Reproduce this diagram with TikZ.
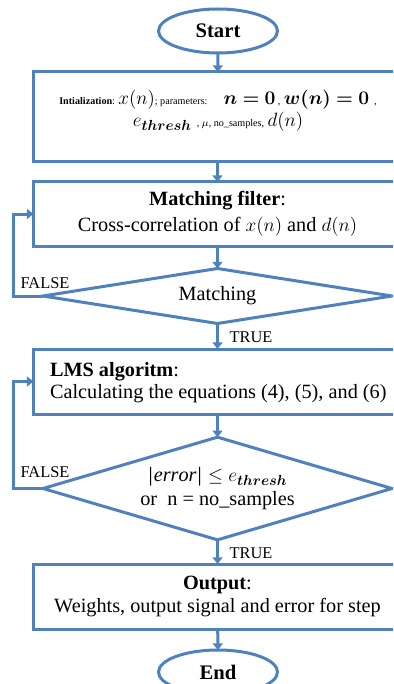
\documentclass[tikz,border=0pt]{standalone}
\usepackage{fontspec}
\setmainfont{Liberation Serif}
\usepackage{amsmath,bm}
\usetikzlibrary{shapes.geometric,arrows.meta}
\definecolor{flowblue}{RGB}{79,129,189}

\begin{document}
\begin{tikzpicture}[x=0.75pt,y=-0.75pt,line width=2.25pt,
  every node/.style={inner sep=0pt,outer sep=0pt},
  terminal/.style={ellipse,draw=flowblue,minimum width=89.25pt,minimum height=33pt,font=\fontsize{15.5}{18}\selectfont\bfseries},
  box/.style={rectangle,draw=flowblue,minimum width=276pt},
  decision/.style={diamond,draw=flowblue,minimum width=261.75pt},
  arr/.style={draw=flowblue,-{Triangle[width=7.5pt,length=5pt]}},
  txt/.style={font=\fontsize{15.2}{17.5}\selectfont,align=center},
  lbl/.style={font=\fontsize{12.3}{14}\selectfont}]

\useasboundingbox (0,0) rectangle (393,684);
\clip (0,0) rectangle (393,684);

% terminals and boxes
\node[terminal] (start) at (218,31) {Start};

\node[box,minimum height=67.5pt] (init) at (217.5,117) {};
\node[font=\fontsize{15}{16.5}\selectfont,align=center] (inittxt) at (218,111)
  {{\fontsize{7.6}{9}\selectfont\textbf{Intialization}:}\,$x(n)${\fontsize{7.6}{9}\selectfont; parameters:}\hspace{12pt}$\bm{n=0}${\fontsize{7.6}{9}\selectfont\ ,}\,$\bm{w(n)=0}${\fontsize{7.6}{9}\selectfont\ \ ,}\\
   $e_{\bm{thresh}}${\fontsize{7.6}{9}\selectfont\ \ , $\mu$, no\_samples,}\,$d(n)$};

\node[box,minimum height=48pt,txt,font=\fontsize{15.2}{19.5}\selectfont] (match) at (217.5,214)
  {\textbf{Matching filter}:\\Cross-correlation of $x(n)$ and $d(n)$};

\node[decision,aspect=6,minimum height=41.25pt,txt] (dmatch) at (217.5,296) {Matching};

\node[box,minimum height=48.75pt] (lms) at (217.5,381.5) {};
\node[txt,align=left,anchor=west,font=\fontsize{15.2}{16}\selectfont] (lmstxt) at (50,382.5)
  {\textbf{LMS algoritm}:\\Calculating the equations (4), (5), and (6)};

\node[decision,aspect=3.4,minimum height=77pt,txt] (derr) at (217.5,488.5)
  {$\bm{|}\mathit{error}\bm{|}\leq e_{\bm{thresh}}$\\or\ \ n = no\_samples};

\node[box,minimum height=48.75pt,txt] (out) at (217.5,596.5)
  {\textbf{Output}:\\Weights, output signal and error for step};

\node[terminal] (end) at (218,672) {End};

% main flow
\draw[arr] (start) -- (init);
\draw[arr] (init) -- (match);
\draw[arr] (match) -- (dmatch);
\draw[arr] (dmatch) -- (lms);
\draw[arr] (lms) -- (derr);
\draw[arr] (derr) -- (out);
\draw[arr] (out) -- (end);

% loops back
\draw[arr] (dmatch.west) -- ++(-30,0) |- (match.west);
\draw[arr] (derr.west) -- ++(-30,0) |- (lms.west);

\node[lbl] (f1) at (45,283) {FALSE};
\node[lbl] (t1) at (251,337) {TRUE};
\node[lbl] (f2) at (45,472) {FALSE};
\node[lbl] (t2) at (251,553) {TRUE};

\end{tikzpicture}
\end{document}
